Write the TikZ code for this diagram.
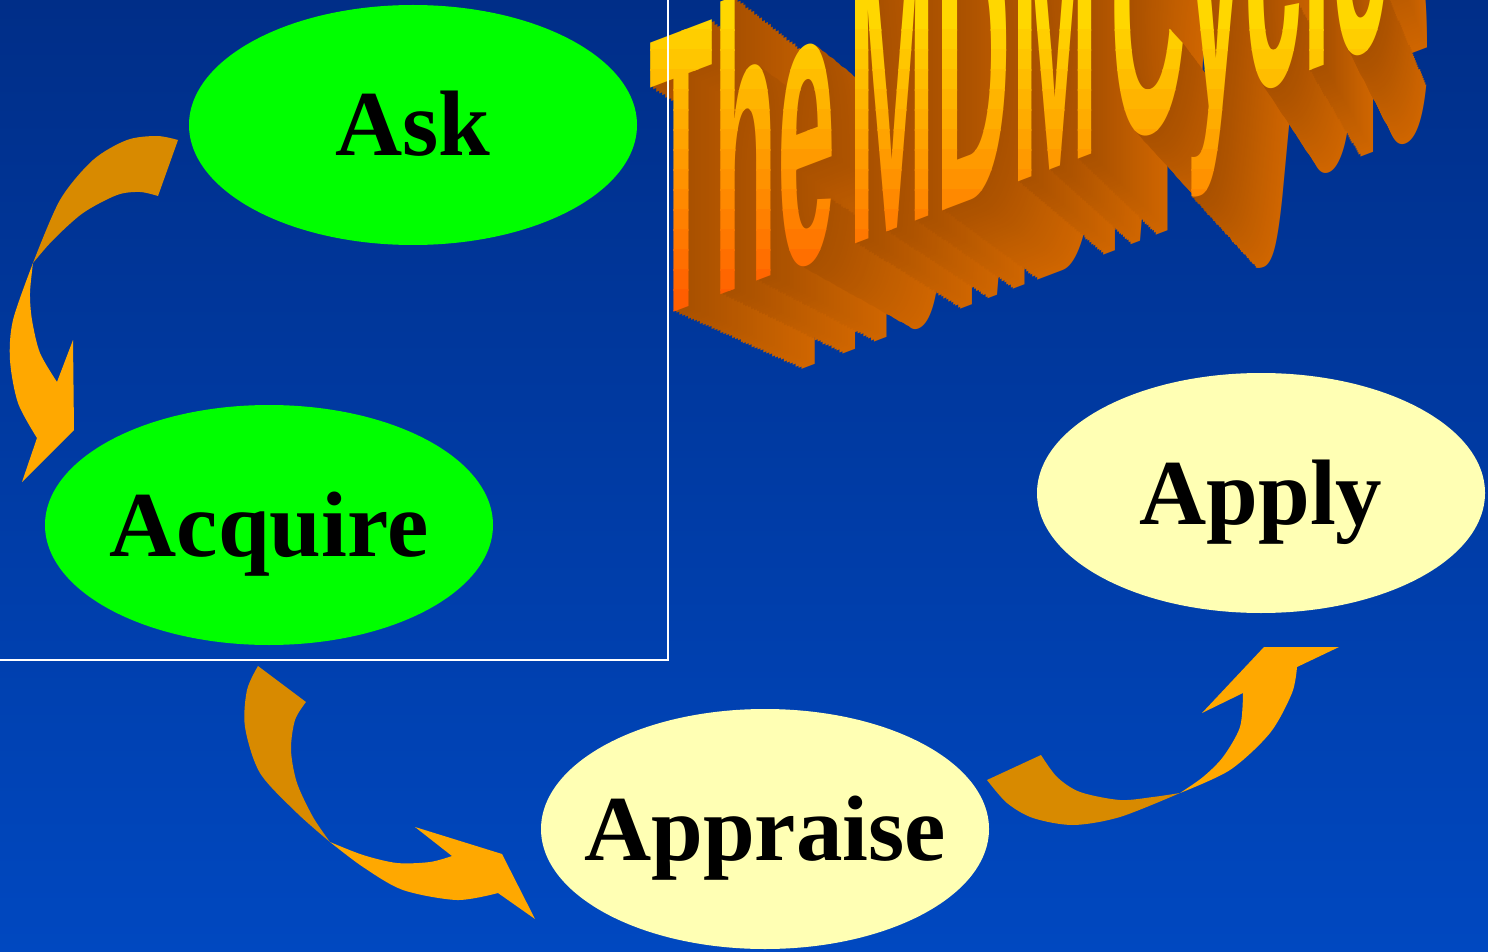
\documentclass[tikz,border=0pt]{standalone}
\usepackage{fontspec}
\setmainfont{Liberation Serif}
\newfontfamily\titlefont{Liberation Sans}
\usetikzlibrary{shapes.geometric}
\definecolor{bgtop}{RGB}{0,46,136}
\definecolor{bgbot}{RGB}{0,72,192}
\definecolor{askgreen}{RGB}{0,255,0}
\definecolor{paleyellow}{RGB}{255,255,180}
\definecolor{arrdark}{RGB}{216,138,0}
\definecolor{arrlight}{RGB}{255,168,0}
\definecolor{titletop}{RGB}{255,215,0}
\definecolor{titlebot}{RGB}{255,85,0}
\definecolor{extfront}{RGB}{168,80,0}
\definecolor{extback}{RGB}{208,102,0}
\newcommand\mdmtitle{{\spaceskip=0.12em\relax The MDM Cycle}}
\tikzset{
  bubble/.style={ellipse, minimum width=224pt, minimum height=120pt, inner sep=0pt},
  bubbletext/.style={inner sep=0pt, font={\fontsize{46.5pt}{50pt}\selectfont\bfseries}, text height=31pt, text depth=0pt},
  titletext/.style={inner sep=0pt, font={\titlefont\bfseries\fontsize{202pt}{202pt}\selectfont}, text height=145pt, text depth=0pt, transform shape},
  titleplace/.style={shift={(1020,36)}, yslant=0.38, xscale=0.259},
  arrowdark/.style={fill=arrdark},
  arrowlight/.style={fill=arrlight},
  frameline/.style={draw=white, line width=0.8pt}
}
\begin{document}
\begin{tikzpicture}[x=0.5pt,y=-0.5pt]
\useasboundingbox (0,0) rectangle (1488,952);
\clip (0,0) rectangle (1488,952);
\shade[top color=bgtop, bottom color=bgbot] (0,0) rectangle (1488,952);

% ---- title: perspective extrusion towards a vanishing point ----
\foreach \k in {44,43,...,1}{
  \pgfmathsetmacro\s{1-0.121*\k/44}
  \pgfmathsetmacro\c{100*\k/44}
  \begin{scope}[shift={(1727,786)}, scale=\s, shift={(-1727,-786)}]
    \begin{scope}[titleplace]
      \node[titletext, text=extback!\c!extfront] (ext\k) at (0,0) {\mdmtitle};
    \end{scope}
  \end{scope}
}
% ---- title: front face, vertical gradient in horizontal bands ----
\foreach \i in {0,...,15}{
  \pgfmathsetmacro\c{100*\i/15}
  \pgfmathsetmacro\ya{\i==0 ? -10 : 10+20*\i}
  \pgfmathsetmacro\yb{\i==15 ? 500 : 10+20*(\i+1)+0.6}
  \begin{scope}
    \clip (0,\ya) rectangle (1488,\yb);
    \begin{scope}[titleplace]
      \node[titletext, text=titlebot!\c!titletop] (title\i) at (0,0) {\mdmtitle};
    \end{scope}
  \end{scope}
}

% ---- curved block arrows ----
% Ask -> Acquire
\fill[arrowdark] plot[smooth] coordinates {(178,140) (157,136) (127,140) (93,160) (60,200) (33,263)}
  -- plot[smooth] coordinates {(33,263) (53,240) (83,213) (117,195) (140,192) (158,196)} -- cycle;
\fill[arrowlight] plot[smooth] coordinates {(33,263) (13,320) (10,360) (18,403) (37,438)}
  -- (22,482) -- (74,430) -- (73,340) -- (57,382)
  -- plot[smooth] coordinates {(57,382) (40,353) (32,320) (30,293) (33,263)} -- cycle;
% Acquire -> Appraise
\fill[arrowdark] plot[smooth] coordinates {(258,666) (247,690) (245,727) (260,773) (297,813) (330,842)}
  -- plot[smooth] coordinates {(330,842) (313,817) (297,783) (291,750) (295,720) (306,702)} -- cycle;
\fill[arrowlight] plot[smooth] coordinates {(330,842) (363,867) (403,890) (457,900) (498,893)}
  -- (535,919) -- (502,854) -- (415,827) -- (452,856)
  -- plot[smooth] coordinates {(452,856) (430,862) (397,863) (363,855) (330,842)} -- cycle;
% Appraise -> Apply
\fill[arrowdark] plot[smooth] coordinates {(987,780) (1007,803) (1033,818) (1073,825) (1120,817) (1180,793)}
  -- plot[smooth] coordinates {(1180,793) (1153,797) (1120,800) (1080,792) (1057,777) (1041,755)} -- cycle;
\fill[arrowlight] plot[smooth] coordinates {(1180,793) (1230,770) (1270,733) (1292,693) (1297,667)}
  -- (1339,647) -- (1264,647) -- (1202,713) -- (1243,693)
  -- plot[smooth] coordinates {(1243,693) (1240,727) (1223,757) (1203,777) (1180,793)} -- cycle;

% ---- ellipses ----
\node[bubble, fill=askgreen] (ask) at (413,125) {};
\node[bubbletext] (asktext) at (ask.center) {Ask};
\node[bubble, fill=askgreen] (acquire) at (269,525) {};
\node[bubbletext] (acquiretext) at (acquire.center) {Acquire};
\node[bubble, fill=paleyellow] (appraise) at (765,829) {};
\node[bubbletext] (appraisetext) at (appraise.center) {Appraise};
\node[bubble, fill=paleyellow] (apply) at (1261,493) {};
\node[bubbletext] (applytext) at (apply.center) {Apply};

% ---- white frame ----
\coordinate (frameA) at (0,660);
\coordinate (frameB) at (668,660);
\coordinate (frameC) at (668,-5);
\draw[frameline] (frameA) -- (frameB) -- (frameC);
\end{tikzpicture}
\end{document}
